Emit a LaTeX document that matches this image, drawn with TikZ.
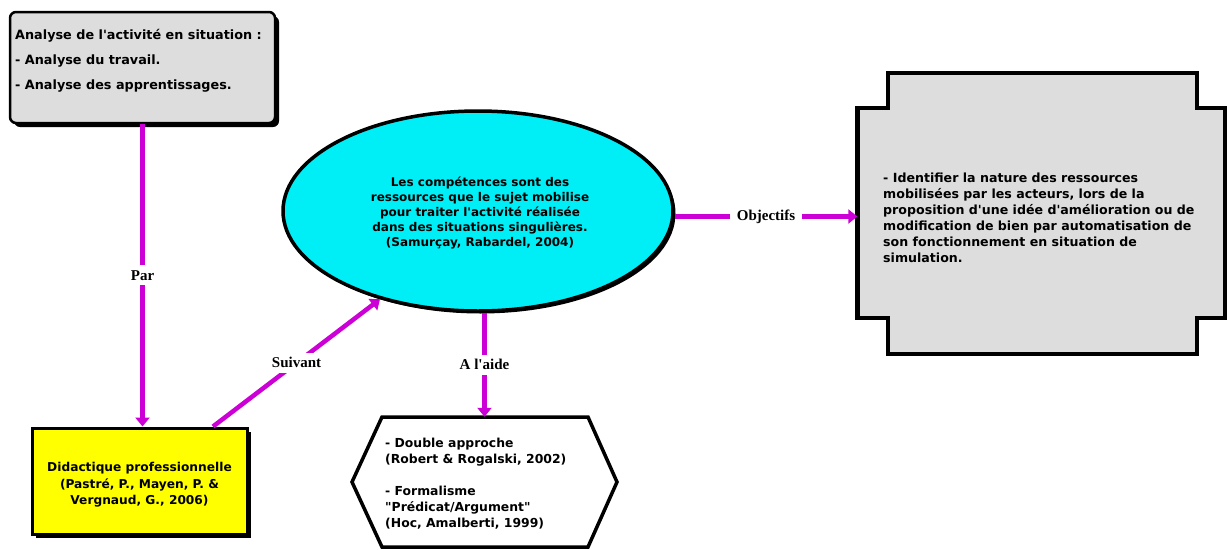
\documentclass[tikz,border=0pt]{standalone}
\usepackage{fontspec}
\newfontfamily\bxfont{DejaVu Sans}
\newfontfamily\lbfont{Liberation Serif}
\usetikzlibrary{arrows.meta,shadows,shapes.geometric}
\definecolor{boxgray}{RGB}{221,221,221}
\definecolor{mag}{RGB}{204,0,214}
\definecolor{cyanfill}{RGB}{0,238,245}
\definecolor{yel}{RGB}{255,255,0}
\begin{document}
\begin{tikzpicture}[x=1pt,y=-1pt,
  conn/.style={draw=mag, line width=4.5pt, -{Triangle[length=9pt,width=14pt]}},
  lbl/.style={font=\lbfont\bfseries\fontsize{15}{17}\selectfont, fill=white, inner xsep=7pt, inner ysep=5pt},
  txt/.style={font=\bxfont\bfseries\fontsize{12}{15}\selectfont, inner sep=0pt, text=black},
  shadowed/.style={drop shadow={shadow xshift=4pt, shadow yshift=-4pt, fill=black, opacity=1}},
  frame/.style={draw=black, inner sep=0pt},
]
\useasboundingbox (0,0) rectangle (1230,549);
\fill[white] (0,0) rectangle (1230,549);

% top-left box
\node[frame, fill=boxgray, line width=2.5pt, rounded corners=6pt, minimum width=265pt, minimum height=111pt, shadowed] (analyse) at (142.5,67.5) {};
\node[txt, anchor=base west, align=left, font=\bxfont\bfseries\fontsize{12.8}{15}\selectfont] (analyseT) at (15,89.5) {Analyse de l'activité en situation :\\[10pt]- Analyse du travail.\\[10pt]- Analyse des apprentissages.};

% ellipse
\node[frame, ellipse, fill=cyanfill, line width=3.5pt, minimum width=390pt, minimum height=200pt, drop shadow={shadow xshift=2.5pt, shadow yshift=-2.5pt, fill=black, opacity=1}] (comp) at (478,211) {};
\node[txt, anchor=base, align=center] (compT) at (480,246.5) {Les compétences sont des\\ressources que le sujet mobilise\\pour traiter l'activité réalisée\\dans des situations singulières.\\(Samurçay, Rabardel, 2004)};

% right box
\node[inner sep=0pt, minimum width=367.5pt, minimum height=281pt] (obj) at (1041.25,213.5) {};
\coordinate (objin) at ([yshift=-3pt]obj.west);
\draw[line width=4.5pt, fill=boxgray, line join=miter] (888,73) -- (1197,73) -- (1197,108) -- (1225,108) -- (1225,318) -- (1197,318) -- (1197,354) -- (888,354) -- (888,318) -- (857.5,318) -- (857.5,108) -- (888,108) -- cycle;
\node[txt, anchor=base west, align=left, font=\bxfont\bfseries\fontsize{12.6}{16}\selectfont] (objT) at (883,262) {- Identifier la nature des ressources\\mobilisées par les acteurs, lors de la\\proposition d'une idée d'amélioration ou de\\modification de bien par automatisation de\\son fonctionnement en situation de\\simulation.};

% hexagon
\node[inner sep=0pt, minimum width=265pt, minimum height=130pt] (aide) at (484.5,482) {};
\draw[line width=3.5pt, fill=white, line join=miter] (352,482) -- (382,417) -- (588,417) -- (617,482) -- (588,547) -- (382,547) -- cycle;
\node[txt, anchor=base west, align=left, font=\bxfont\bfseries\fontsize{12.4}{16}\selectfont] (aideT) at (385,527.5) {- Double approche\\(Robert \& Rogalski, 2002)\\[16pt]- Formalisme\\"Prédicat/Argument"\\(Hoc, Amalberti, 1999)};

% yellow box
\node[frame, fill=yel, line width=3pt, minimum width=215pt, minimum height=106pt, shadowed] (did) at (139.5,481) {};
\node[txt, anchor=base, align=center, font=\bxfont\bfseries\fontsize{12.2}{16.5}\selectfont] (didT) at (139.5,504.5) {Didactique professionnelle\\(Pastré, P., Mayen, P. \&\\Vergnaud, G., 2006)};

% connectors
\draw[conn] (analyse.south) -- (analyse.south |- did.north) node[lbl, midway] (parL) {Par};
\draw[conn] ([xshift=73.5pt]did.north) -- (comp.222) node[lbl, midway] (suivL) {Suivant};
\draw[conn] (comp.south -| aide.north) -- (aide.north) node[lbl, midway] (aideL) {A l'aide};
\draw[conn] (comp.east |- objin) -- (objin) node[lbl, midway] (objL) {Objectifs};
\end{tikzpicture}
\end{document}
